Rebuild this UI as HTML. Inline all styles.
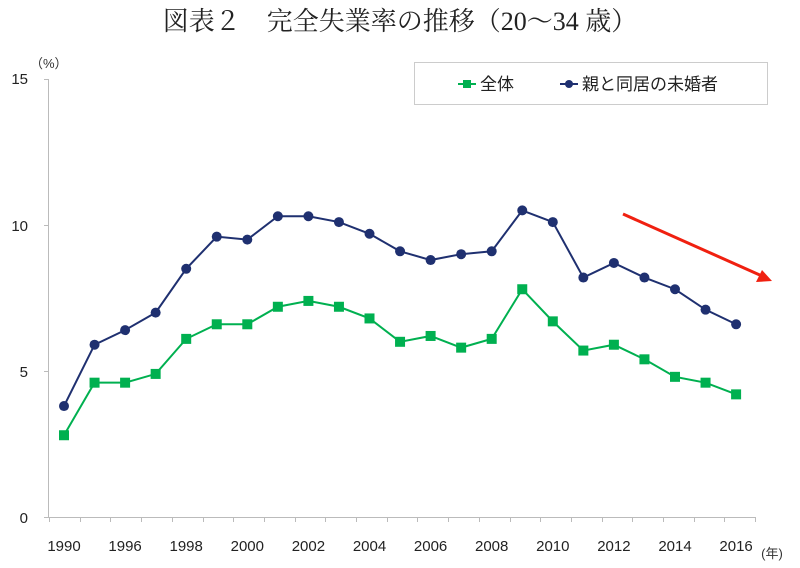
<!DOCTYPE html>
<html><head><meta charset="utf-8"><style>
body{margin:0;background:#fff;}
svg text{font-family:"Liberation Sans","Noto Sans CJK JP",sans-serif;}
</style></head><body>
<svg width="800" height="563" xmlns="http://www.w3.org/2000/svg">
<text x="400" y="30" text-anchor="middle" font-size="26" style="font-family:'Liberation Serif','Noto Serif CJK SC',serif" fill="#222">図表２　完全失業率の推移（20～34 歳）</text>
<text x="30" y="68" font-size="13" fill="#333">（%）</text>
<g font-size="15" fill="#222" text-anchor="end">
<text x="28" y="84">15</text><text x="28" y="231">10</text><text x="28" y="377">5</text><text x="28" y="523">0</text>
</g>
<line x1="48.5" y1="79" x2="48.5" y2="517" stroke="#bbb"/>
<line x1="44" y1="79.5" x2="48" y2="79.5" stroke="#bbb"/>
<line x1="44" y1="225.5" x2="48" y2="225.5" stroke="#bbb"/>
<line x1="44" y1="371.5" x2="48" y2="371.5" stroke="#bbb"/>
<line x1="44" y1="517.5" x2="755" y2="517.5" stroke="#bbb"/>
<g id="ticks" stroke="#bbb"></g>
<g font-size="15" fill="#222" text-anchor="middle" id="xl"></g>
<text x="772" y="558" font-size="13" fill="#333" text-anchor="middle">(年)</text>
<rect x="414.5" y="62.5" width="353" height="42" fill="#fff" stroke="#ccc"/>
<line x1="458" y1="84" x2="476" y2="84" stroke="#00b050" stroke-width="2"/><rect x="463" y="80" width="8" height="8" fill="#00b050"/>
<text x="480" y="90" font-size="17" fill="#222">全体</text>
<line x1="560" y1="84" x2="578" y2="84" stroke="#1f3070" stroke-width="2"/><circle cx="569" cy="84" r="4" fill="#1f3070"/>
<text x="582" y="90" font-size="17" fill="#222">親と同居の未婚者</text>
<polyline id="g" fill="none" stroke="#00b050" stroke-width="2"/>
<polyline id="b" fill="none" stroke="#1f3070" stroke-width="2"/>
<g id="gm" fill="#00b050"></g><g id="bm" fill="#1f3070"></g>
<line x1="623" y1="214" x2="762" y2="276" stroke="#f02010" stroke-width="3"/>
<polygon points="772,281 756,282 762,270" fill="#f02010"/>
</svg>
<script>
var G=[2.8,4.6,4.6,4.9,6.1,6.6,6.6,7.2,7.4,7.2,6.8,6.0,6.2,5.8,6.1,7.8,6.7,5.7,5.9,5.4,4.8,4.6,4.2];
var B=[3.8,5.9,6.4,7.0,8.5,9.6,9.5,10.3,10.3,10.1,9.7,9.1,8.8,9.0,9.1,10.5,10.1,8.2,8.7,8.2,7.8,7.1,6.6];
var ns="http://www.w3.org/2000/svg";
function X(i){return 64+i*30.55;}function Y(v){return 517-v*29.2;}
function el(t,a,p){var e=document.createElementNS(ns,t);for(var k in a)e.setAttribute(k,a[k]);document.getElementById(p).appendChild(e);return e;}
document.getElementById('g').setAttribute('points',G.map(function(v,i){return X(i)+','+Y(v)}).join(' '));
document.getElementById('b').setAttribute('points',B.map(function(v,i){return X(i)+','+Y(v)}).join(' '));
G.forEach(function(v,i){el('rect',{x:X(i)-5,y:Y(v)-5,width:10,height:10},'gm');});
B.forEach(function(v,i){el('circle',{cx:X(i),cy:Y(v),r:5},'bm');});
for(var i=0;i<=23;i++){var x=Math.round(49+i*30.7)+0.5;el('line',{x1:x,y1:517,x2:x,y2:522},'ticks');}
var L=['1990','1996','1998','2000','2002','2004','2006','2008','2010','2012','2014','2016'];
L.forEach(function(t,j){el('text',{x:X(j*2),y:551},'xl').textContent=t;});
</script>
</body></html>
